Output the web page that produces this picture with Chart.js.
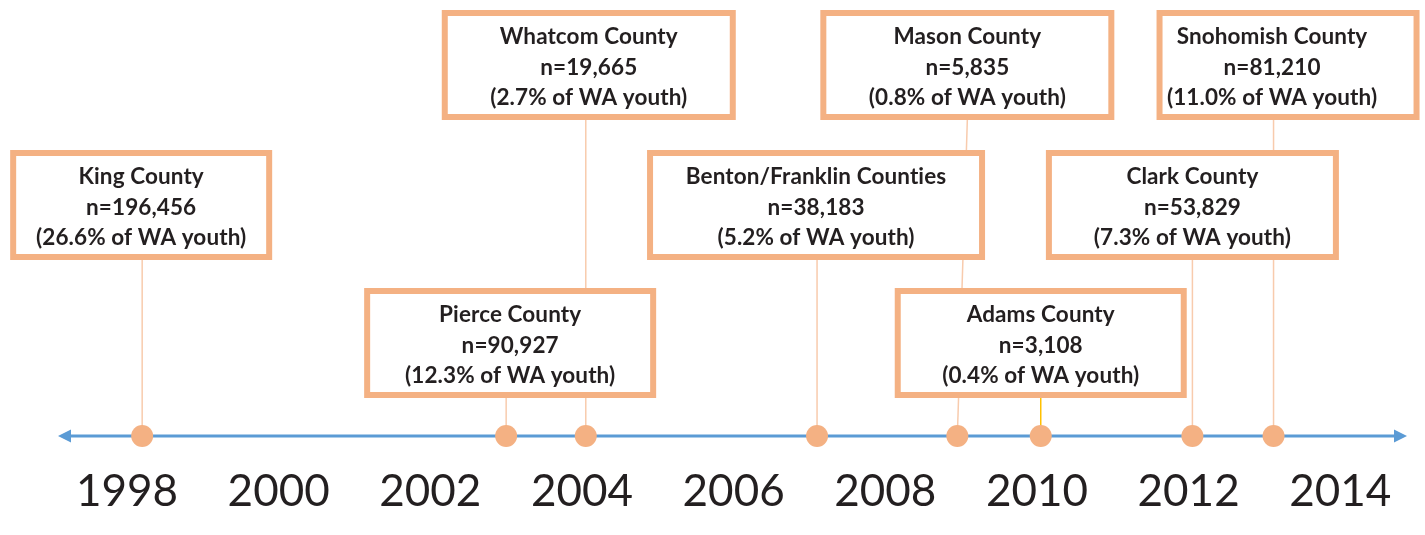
<!DOCTYPE html>
<html>
<head>
<meta charset="utf-8">
<title>WA youth county timeline</title>
<script src="https://cdn.jsdelivr.net/npm/chart.js@4.4.1/dist/chart.umd.min.js"></script>
<style>
  html, body { margin: 0; padding: 0; background: #fff; }
  #wrap { position: relative; width: 1425px; height: 535px; }
</style>
</head>
<body>
<div id="wrap"><canvas id="chartTimeline"></canvas></div>
<script>
// counties in date order, with the year each joined
var counties = [
  "King County",
  "Pierce County",
  "Whatcom County",
  "Benton/Franklin Counties",
  "Mason County",
  "Adams County",
  "Clark County",
  "Snohomish County",
];
var startYears = [1998.2, 2003.0, 2004.05, 2007.1, 2008.95, 2010.05, 2012.05, 2013.12];
var youthCounts = [196456, 90927, 19665, 38183, 5835, 3108, 53829, 81210];
var youthShares = ["26.6", "12.3", "2.7", "5.2", "0.8", "0.4", "7.3", "11.0"];
var yearTicks = [1998, 2000, 2002, 2004, 2006, 2008, 2010, 2012, 2014];

(function () {
  "use strict";

  var colors = {
    axis: "#5B9BD5",
    dot: "#F4B183",
    box: "#F4B183",
    link: "#F8CBAD",
    linkAlt: "#FFC000",
    text: "#231F20",
  };

  // box placement per county: row, centre offset from its dot, width
  var rowTops = [10, 150, 288];
  var boxHeight = 110;
  var boxLayout = [
    { row: 1, dx: -1, w: 262 },
    { row: 2, dx: 4, w: 292 },
    { row: 0, dx: 3, w: 294 },
    { row: 1, dx: -1, w: 338 },
    { row: 0, dx: 10, w: 294, slant: 10 },
    { row: 2, dx: 0, w: 292, alt: true },
    { row: 1, dx: 0, w: 293 },
    { row: 0, dx: 14.5, w: 263, textDx: -16 },
  ];

  function drawArrowHead(ctx, x, y, dir) {
    ctx.beginPath();
    ctx.moveTo(x, y);
    ctx.lineTo(x - dir * 13, y - 6.5);
    ctx.lineTo(x - dir * 13, y + 6.5);
    ctx.closePath();
    ctx.fill();
  }

  var timelinePlugin = {
    id: "timeline",
    beforeDatasetsDraw: function (chart) {
      var ctx = chart.ctx;
      var area = chart.chartArea;
      var xs = chart.scales.x;
      var axisY = chart.scales.y.getPixelForValue(0);

      ctx.save();
      // axis line with arrows
      ctx.strokeStyle = colors.axis;
      ctx.fillStyle = colors.axis;
      ctx.lineWidth = 3;
      ctx.beginPath();
      ctx.moveTo(area.left + 8, axisY);
      ctx.lineTo(area.right - 8, axisY);
      ctx.stroke();
      drawArrowHead(ctx, area.left, axisY, -1);
      drawArrowHead(ctx, area.right, axisY, 1);

      // connectors first, boxes cover them
      startYears.forEach(function (yr, i) {
        var lay = boxLayout[i];
        var px = xs.getPixelForValue(yr);
        var top = rowTops[lay.row] + boxHeight;
        ctx.strokeStyle = lay.alt ? colors.linkAlt : colors.link;
        ctx.lineWidth = 1.5;
        ctx.beginPath();
        ctx.moveTo(px + (lay.slant || 0), top);
        ctx.lineTo(px, axisY);
        ctx.stroke();
      });

      startYears.forEach(function (yr, i) {
        var lay = boxLayout[i];
        var cx = xs.getPixelForValue(yr) + lay.dx;
        var top = rowTops[lay.row];
        ctx.fillStyle = "#fff";
        ctx.fillRect(cx - lay.w / 2, top, lay.w, boxHeight);
        ctx.strokeStyle = colors.box;
        ctx.lineWidth = 6;
        ctx.strokeRect(cx - lay.w / 2 + 3, top + 3, lay.w - 6, boxHeight - 6);

        var tx = cx + (lay.textDx || 0);
        var ty = top + boxHeight / 2 + 2.5;
        ctx.fillStyle = colors.text;
        ctx.font = "bold 22.5px Lato, 'Open Sans', sans-serif";
        ctx.letterSpacing = "0.1px"; // keeps Lato from joining "ti"
        ctx.textAlign = "center";
        ctx.textBaseline = "middle";
        ctx.fillText(counties[i], tx, ty - 30.5);
        ctx.fillText("n=" + youthCounts[i].toLocaleString("en-US"), tx, ty);
        ctx.fillText("(" + youthShares[i] + "% of WA youth)", tx, ty + 30.5);
      });
      ctx.restore();
    },
  };

  function initTimeline() {
    var el = document.getElementById("chartTimeline");
    if (!el || typeof Chart === "undefined") return;

    new Chart(el, {
      type: "scatter",
      data: {
        datasets: [
          {
            label: "Start",
            data: startYears.map(function (yr) {
              return { x: yr, y: 0 };
            }),
            backgroundColor: colors.dot,
            borderWidth: 0,
            pointRadius: 11,
            pointHoverRadius: 11,
            clip: false,
          },
        ],
      },
      options: {
        responsive: true,
        maintainAspectRatio: false,
        animation: false,
        layout: {
          padding: { left: 58, right: 18, top: 0, bottom: 0 },
        },
        plugins: {
          legend: { display: false },
          tooltip: { enabled: false },
        },
        scales: {
          x: {
            type: "linear",
            min: 1997.09,
            max: 2014.88,
            afterBuildTicks: function (axis) {
              axis.ticks = yearTicks.map(function (v) {
                return { value: v };
              });
            },
            afterFit: function (axis) {
              axis.height = 99;
            },
            grid: { display: false },
            border: { display: false },
            ticks: {
              color: "#231F20",
              padding: 21,
              maxRotation: 0,
              autoSkip: false,
              font: { family: "Lato, 'Open Sans', sans-serif", size: 44 },
              callback: function (v) {
                return String(v);
              },
            },
          },
          y: {
            display: false,
            min: 0,
            max: 1,
          },
        },
      },
      plugins: [timelinePlugin],
    });
  }

  document.addEventListener("DOMContentLoaded", initTimeline);
})();
</script>
</body>
</html>
